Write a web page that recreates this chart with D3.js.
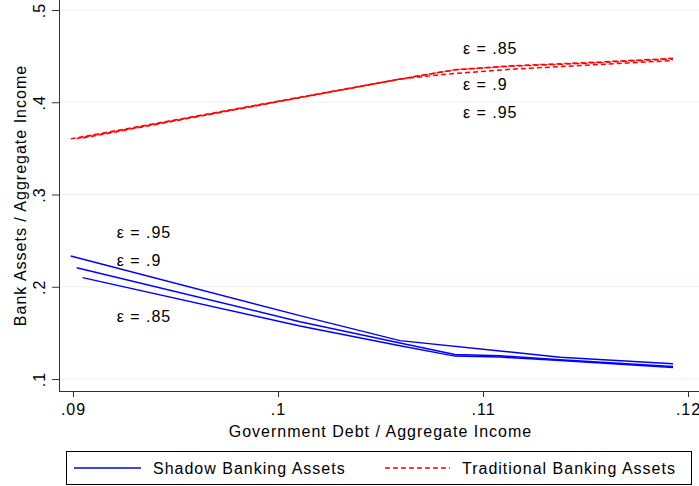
<!DOCTYPE html>
<html>
<head>
<meta charset="utf-8">
<script src="https://cdn.jsdelivr.net/npm/d3@7"></script>
<style>
  html, body { margin: 0; padding: 0; background: #fff; }
  svg { display: block; }
  text { font-family: "Liberation Sans", Arial, Helvetica, sans-serif; fill: #000; letter-spacing: 1px; }
</style>
</head>
<body>
<svg id="chart" width="699" height="486"></svg>
<script>
// ---- data ----
const xTicks = [0.09, 0.10, 0.11, 0.12];
const yTicks = [0.1, 0.2, 0.3, 0.4, 0.5];
const xTitle = "Government Debt / Aggregate Income";
const yTitle = "Bank Assets / Aggregate Income";
const seriesNames = ["Shadow Banking Assets", "Traditional Banking Assets"];

// Shadow banking (blue), three elasticities
const shadow95X = [0.08989, 0.10107, 0.10595, 0.11083, 0.11376, 0.11927];
const shadow95Y = [0.2334, 0.1687, 0.1416, 0.1304, 0.1236, 0.1165];
const shadow90X = [0.09018, 0.10107, 0.10595, 0.10863, 0.11083, 0.11376, 0.11927];
const shadow90Y = [0.2207, 0.1621, 0.1390, 0.1265, 0.1251, 0.1210, 0.1135];
const shadow85X = [0.09047, 0.10107, 0.10595, 0.10863, 0.11083, 0.11376, 0.11927];
const shadow85Y = [0.2099, 0.1575, 0.1361, 0.1248, 0.1238, 0.1200, 0.1125];

// Traditional banking (red), three elasticities
const trad95X = [0.08989, 0.10595, 0.10823, 0.11146, 0.11473, 0.11927];
const trad95Y = [0.3603, 0.4251, 0.4305, 0.4359, 0.4398, 0.4452];
const trad90X = [0.09018, 0.10595, 0.10863, 0.11146, 0.11473, 0.11927];
const trad90Y = [0.3607, 0.4251, 0.4351, 0.4392, 0.4420, 0.4468];
const trad85X = [0.09047, 0.10595, 0.10863, 0.11146, 0.11473, 0.11927];
const trad85Y = [0.3612, 0.4251, 0.4353, 0.4396, 0.4426, 0.4476];

// annotation labels (data coordinates)
const labelText = ["ε = .85", "ε = .9", "ε = .95", "ε = .95", "ε = .9", "ε = .85"];
const labelX = [0.10902, 0.10902, 0.10902, 0.09213, 0.09213, 0.09213];
const labelY = [0.4523, 0.4133, 0.3826, 0.2525, 0.2225, 0.1621];

// ---- layout ----
const svg = d3.select("#chart");
const plot = { left: 59, right: 699, top: 0, bottom: 391 };
const x = d3.scaleLinear().domain([0.09, 0.12]).range([73, 688]);
const y = d3.scaleLinear().domain([0.1, 0.5]).range([379, 10]);
const fmt = v => d3.format(".2~f")(v).replace(/^0\./, ".");

// gridlines
svg.append("g").selectAll("line").data(yTicks).join("line")
  .attr("x1", plot.left).attr("x2", plot.right)
  .attr("y1", d => y(d)).attr("y2", d => y(d))
  .attr("stroke", "#eaf2f3").attr("stroke-width", 1);

// y axis
const yAxis = svg.append("g").attr("transform", `translate(${plot.left},0)`)
  .call(d3.axisLeft(y).tickValues(yTicks).tickFormat(fmt).tickSize(7).tickSizeOuter(0));
yAxis.select(".domain").remove();
yAxis.selectAll(".tick line").attr("stroke", "#333");
yAxis.selectAll(".tick text")
  .attr("x", null).attr("dy", null).attr("y", null)
  .attr("transform", "translate(-14,0) rotate(-90)")
  .attr("text-anchor", "middle")
  .style("font-size", "16px");

// x axis
const xAxis = svg.append("g").attr("transform", `translate(0,${plot.bottom})`)
  .call(d3.axisBottom(x).tickValues(xTicks).tickFormat(fmt).tickSize(6).tickSizeOuter(0));
xAxis.select(".domain").remove();
xAxis.selectAll(".tick line").attr("stroke", "#333");
xAxis.selectAll(".tick text").attr("dy", null).attr("y", 24)
  .style("font-size", "16px");

// axis lines
svg.append("line").attr("x1", plot.left + 0.5).attr("x2", plot.left + 0.5)
  .attr("y1", plot.top).attr("y2", plot.bottom + 0.5)
  .attr("stroke", "#333").attr("stroke-width", 1);
svg.append("line").attr("x1", plot.left).attr("x2", plot.right)
  .attr("y1", plot.bottom + 0.5).attr("y2", plot.bottom + 0.5)
  .attr("stroke", "#333").attr("stroke-width", 1);

// titles
svg.append("text").attr("x", (73 + 688) / 2).attr("y", 437)
  .attr("text-anchor", "middle").style("font-size", "16px").text(xTitle);
svg.append("text").attr("transform", `translate(26,${(plot.top + plot.bottom) / 2}) rotate(-90)`)
  .attr("text-anchor", "middle").style("font-size", "16px").text(yTitle);

// lines
const line = d3.line().x(d => x(d[0])).y(d => y(d[1]));
const zip = (a, b) => a.map((v, i) => [v, b[i]]);
const blueSeries = [[shadow95X, shadow95Y], [shadow90X, shadow90Y], [shadow85X, shadow85Y]];
const redSeries = [[trad95X, trad95Y], [trad90X, trad90Y], [trad85X, trad85Y]];

svg.append("g").selectAll("path").data(redSeries).join("path")
  .attr("d", d => line(zip(d[0], d[1])))
  .attr("fill", "none").attr("stroke", "#ff0000").attr("stroke-width", 1.5)
  .attr("stroke-dasharray", "5,3");
svg.append("g").selectAll("path").data(blueSeries).join("path")
  .attr("d", d => line(zip(d[0], d[1])))
  .attr("fill", "none").attr("stroke", "#0000ff").attr("stroke-width", 1.5);

// labels
svg.append("g").selectAll("text").data(labelText).join("text")
  .attr("x", (d, i) => x(labelX[i])).attr("y", (d, i) => y(labelY[i]))
  .style("font-size", "16px").text(d => d);

// legend
const lg = svg.append("g");
lg.append("rect").attr("x", 66.5).attr("y", 451.5).attr("width", 625).attr("height", 33)
  .attr("fill", "#fff").attr("stroke", "#000").attr("stroke-width", 1);
lg.append("line").attr("x1", 74).attr("x2", 141).attr("y1", 468).attr("y2", 468)
  .attr("stroke", "#0000ff").attr("stroke-width", 1.5);
lg.append("text").attr("x", 153).attr("y", 474).style("font-size", "16px").text(seriesNames[0]);
lg.append("line").attr("x1", 385).attr("x2", 450).attr("y1", 468).attr("y2", 468)
  .attr("stroke", "#ff0000").attr("stroke-width", 1.5).attr("stroke-dasharray", "5,3");
lg.append("text").attr("x", 462).attr("y", 474).style("font-size", "16px").text(seriesNames[1]);
</script>
</body>
</html>
